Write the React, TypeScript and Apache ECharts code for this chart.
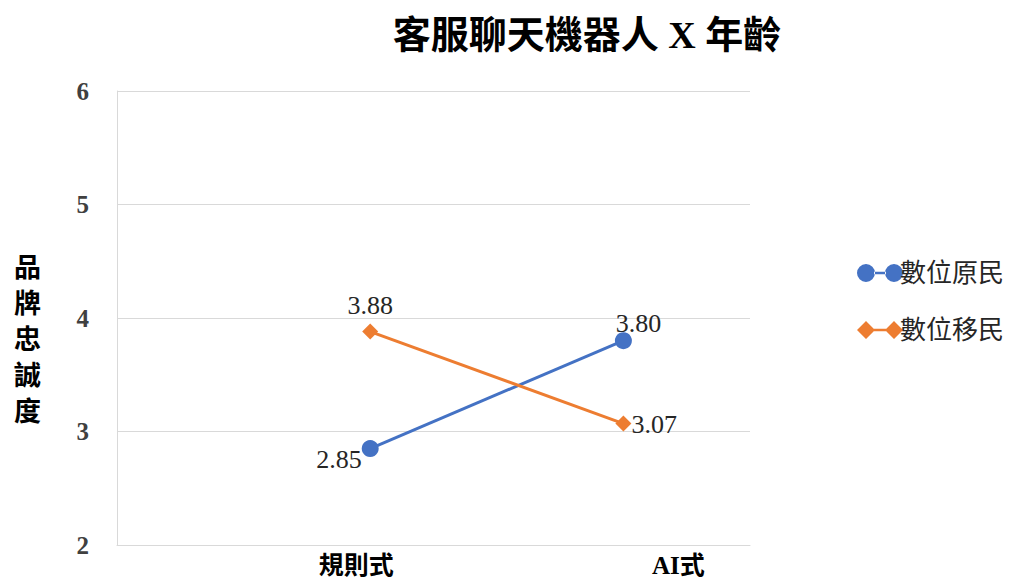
import React, { useEffect, useRef } from "react";
import * as echarts from "echarts";

const titleText = "客服聊天機器人 X 年齡";
const yAxisName = ["品", "牌", "忠", "誠", "度"];
const categories = ["規則式", "AI式"];
const categoryPositions = [1, 2];
const seriesNames = ["數位原民", "數位移民"];
const nativesValues = [2.85, 3.8];
const immigrantsValues = [3.88, 3.07];
const yTicks = [2, 3, 4, 5, 6];

const SERIF = "'Liberation Serif', 'Times New Roman', 'Noto Sans CJK TC', serif";
const CJK = "'Liberation Serif', 'Noto Sans CJK TC', serif";

const circleIcon =
  "path://M0,9a9,9 0 1,0 18,0a9,9 0 1,0 -18,0Z M17,7.8h12v2.4h-12Z M28,9a9,9 0 1,0 18,0a9,9 0 1,0 -18,0Z";
const diamondIcon =
  "path://M0,9L9,0L18,9L9,18Z M17,7.8h12v2.4h-12Z M28,9L37,0L46,9L37,18Z";

export default function App() {
  const ref = useRef<HTMLDivElement>(null);
  useEffect(() => {
    if (!ref.current) return;
    const chart = echarts.init(ref.current, undefined, { renderer: "svg" });
    const labelFont = { fontFamily: SERIF, fontSize: 26, color: "#262626" };
    const nativesLabels = [
      { position: "left", offset: [4, 11], distance: 4 },
      { position: "top", offset: [15, 8], distance: 4 },
    ];
    const immigrantsLabels = [
      { position: "top", offset: [0, 1], distance: 6 },
      { position: "right", offset: [-6, 1], distance: 6 },
    ];
    chart.setOption({
      animation: false,
      backgroundColor: "#ffffff",
      title: {
        text: titleText,
        left: 582,
        top: 11,
        textAlign: "center",
        textStyle: { fontFamily: CJK, fontSize: 38, fontWeight: "bold", color: "#000" },
      },
      grid: { left: 117, right: 259, top: 91, bottom: 38, containLabel: false },
      legend: {
        orient: "vertical",
        left: 852,
        top: 255,
        itemWidth: 46,
        itemHeight: 18,
        itemGap: 31,
        textStyle: { fontFamily: CJK, fontSize: 26, color: "#262626", padding: [0, 0, 0, -8] },
        data: [
          { name: seriesNames[0], icon: circleIcon },
          { name: seriesNames[1], icon: diamondIcon },
        ],
      },
      graphic: [
        {
          type: "text",
          left: 14,
          top: 250,
          style: {
            text: yAxisName.join("\n"),
            fontFamily: CJK,
            fontSize: 27,
            fontWeight: "bold",
            lineHeight: 36,
            fill: "#000",
            textAlign: "left",
          },
        },
      ],
      xAxis: {
        type: "value",
        min: 0,
        max: 2.5,
        interval: 0.5,
        axisLine: { show: true, lineStyle: { color: "#d9d9d9", width: 1 } },
        axisTick: { show: false },
        splitLine: { show: false },
        axisLabel: {
          margin: 8,
          formatter: (v: number) => {
            const i = categoryPositions.indexOf(v);
            return i >= 0 ? `{c${i}|${categories[i]}}` : "";
          },
          rich: {
            c0: {
              fontFamily: CJK,
              fontSize: 25,
              fontWeight: "bold",
              color: "#000",
              padding: [0, 28, 0, 0],
            },
            c1: {
              fontFamily: CJK,
              fontSize: 25,
              fontWeight: "bold",
              color: "#000",
              padding: [0, 0, 0, 110],
            },
          },
        },
      },
      yAxis: {
        type: "value",
        min: yTicks[0],
        max: yTicks[yTicks.length - 1],
        interval: 1,
        axisLine: { show: true, lineStyle: { color: "#d9d9d9", width: 1 } },
        axisTick: { show: false },
        splitLine: { show: true, lineStyle: { color: "#d9d9d9", width: 1 } },
        axisLabel: {
          margin: 28,
          fontFamily: SERIF,
          fontSize: 25,
          fontWeight: "bold",
          color: "#404040",
        },
      },
      series: [
        {
          name: seriesNames[0],
          type: "line",
          symbol: "circle",
          symbolSize: 17,
          itemStyle: { color: "#4472C4" },
          lineStyle: { color: "#4472C4", width: 3 },
          data: nativesValues.map((v, i) => ({
            value: [categoryPositions[i], v],
            label: { show: true, ...nativesLabels[i], ...labelFont, formatter: v.toFixed(2) },
          })),
        },
        {
          name: seriesNames[1],
          type: "line",
          symbol: "diamond",
          symbolSize: 16,
          itemStyle: { color: "#ED7D31" },
          lineStyle: { color: "#ED7D31", width: 3 },
          data: immigrantsValues.map((v, i) => ({
            value: [categoryPositions[i], v],
            label: { show: true, ...immigrantsLabels[i], ...labelFont, formatter: v.toFixed(2) },
          })),
        },
      ],
    });
    return () => chart.dispose();
  }, []);
  return (
    <div
      ref={ref}
      style={{ position: "fixed", left: 0, top: 0, width: 1009, height: 583, background: "#fff" }}
    />
  );
}
